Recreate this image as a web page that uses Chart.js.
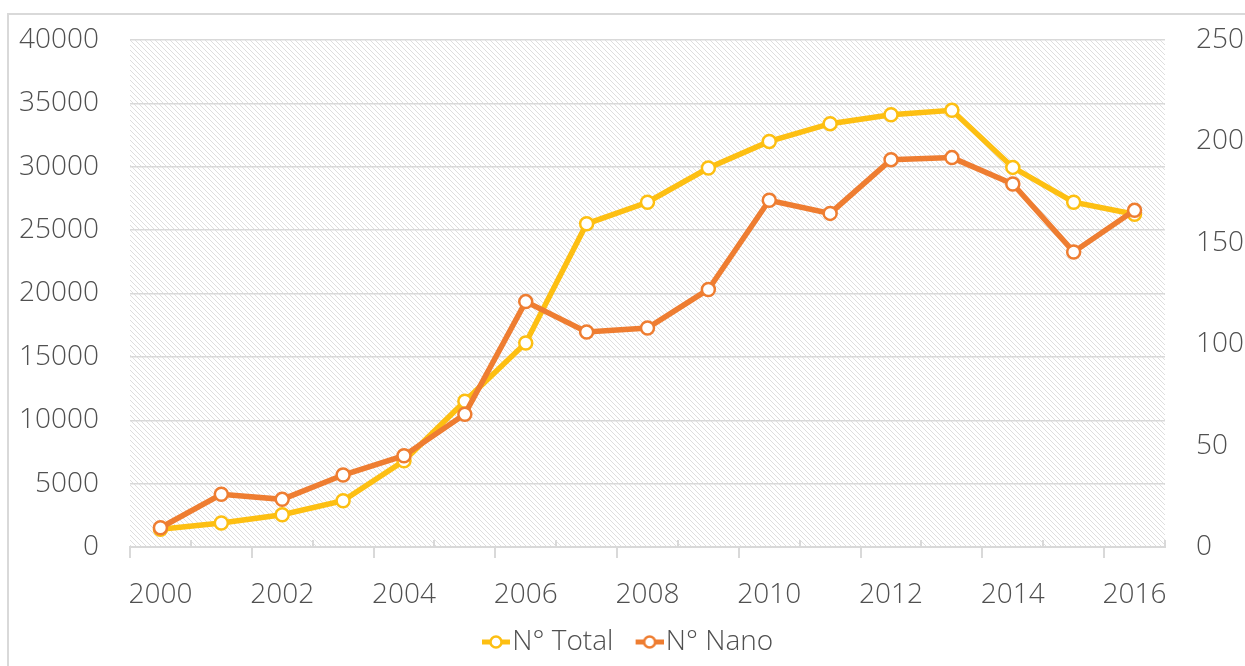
<!DOCTYPE html>
<html>
<head>
<meta charset="UTF-8">
<title>N° Total / N° Nano</title>
<script src="https://cdn.jsdelivr.net/npm/chart.js"></script>
<style>
  body { margin: 0; background: #fff; }
</style>
</head>
<body>
<canvas id="chart" width="1245" height="666"></canvas>
<script>
  // values
  const years = ['2000', '2001', '2002', '2003', '2004', '2005', '2006', '2007', '2008',
                 '2009', '2010', '2011', '2012', '2013', '2014', '2015', '2016'];
  const totalData = [1400, 1900, 2550, 3650, 6800, 11500, 16100, 25500, 27200,
                     29900, 32000, 33400, 34100, 34450, 29950, 27200, 26250];
  const nanoData = [9.5, 26, 23.5, 35.5, 45, 65.5, 121, 106, 108,
                    127, 171, 164.5, 191, 192, 179, 145.5, 166];

  const YELLOW = '#FDBF12';
  const ORANGE = '#EE7D31';
  const GRID = '#d9d9d9';
  const TEXT = '#505050';
  const FONT = { family: '"Open Sans", "DejaVu Sans", sans-serif', size: 28, weight: 300 };

  // diagonal hatch used behind the plot
  function hatchPattern(ctx) {
    const s = 5;
    const c = document.createElement('canvas');
    c.width = s; c.height = s;
    const g = c.getContext('2d');
    g.fillStyle = '#ffffff';
    g.fillRect(0, 0, s, s);
    g.strokeStyle = '#dedede';
    g.lineWidth = 1;
    g.beginPath();
    g.moveTo(-1, -1); g.lineTo(s + 1, s + 1);
    g.moveTo(-1, s - 1); g.lineTo(1, s + 1);
    g.moveTo(s - 1, -1); g.lineTo(s + 1, 1);
    g.stroke();
    return ctx.createPattern(c, 'repeat');
  }

  // line + hollow circle marker, drawn at the right of a wider transparent image
  function legendMarker(color) {
    const c = document.createElement('canvas');
    c.width = 50; c.height = 16;
    const g = c.getContext('2d');
    g.strokeStyle = color;
    g.lineWidth = 5;
    g.beginPath(); g.moveTo(22, 8); g.lineTo(50, 8); g.stroke();
    g.fillStyle = '#fff';
    g.lineWidth = 2.5;
    g.beginPath(); g.arc(36, 8, 5.5, 0, Math.PI * 2); g.fill(); g.stroke();
    return c;
  }

  const background = {
    id: 'background',
    beforeDraw(chart) {
      const { ctx, chartArea: a } = chart;
      ctx.save();
      ctx.strokeStyle = GRID;
      ctx.lineWidth = 2;
      ctx.strokeRect(8, 14, 1400, 1000);
      ctx.fillStyle = hatchPattern(ctx);
      ctx.fillRect(a.left, a.top, a.right - a.left, a.bottom - a.top);
      ctx.restore();
    }
  };

  // long ticks below the axis every 2 years, short ones inside the plot between them
  const axisTicks = {
    id: 'axisTicks',
    beforeDatasetsDraw(chart) {
      const x = chart.scales.x;
      const ctx = chart.ctx;
      const half = (x.getPixelForValue(1) - x.getPixelForValue(0)) / 2;
      ctx.save();
      ctx.strokeStyle = GRID;
      ctx.lineWidth = 2;
      for (let i = 0; i <= years.length; i++) {
        const px = Math.round(x.getPixelForValue(i) - half);
        ctx.beginPath();
        if (i % 2 === 0 && i < years.length) {
          ctx.moveTo(px, x.top); ctx.lineTo(px, x.top + 11);
        } else {
          ctx.moveTo(px, x.top); ctx.lineTo(px, x.top - 7);
        }
        ctx.stroke();
      }
      ctx.restore();
    }
  };

  // fixed axis widths; label padding should not push the plot down
  function fitY(width) {
    return s => {
      s.width = width;
      s.paddingTop = 0;
      s.paddingBottom = 0;
    };
  }

  window.onload = () => {
    const ctx = document.getElementById('chart').getContext('2d');
    new Chart(ctx, {
      type: 'line',
      data: {
        labels: years,
        datasets: [{
          label: 'N° Total',
          data: totalData,
          yAxisID: 'y',
          order: 2,
          borderColor: YELLOW,
          backgroundColor: YELLOW,
          borderWidth: 5.5,
          tension: 0,
          pointRadius: 6.5,
          pointBorderWidth: 2.5,
          pointBackgroundColor: '#fff',
          pointBorderColor: YELLOW
        }, {
          label: 'N° Nano',
          data: nanoData,
          yAxisID: 'y1',
          order: 1,
          borderColor: ORANGE,
          backgroundColor: ORANGE,
          borderWidth: 5.5,
          tension: 0,
          pointRadius: 6.5,
          pointBorderWidth: 2.5,
          pointBackgroundColor: '#fff',
          pointBorderColor: ORANGE
        }]
      },
      options: {
        responsive: false,
        animation: false,
        devicePixelRatio: 1,
        layout: { padding: { top: 40, left: 0, right: 0, bottom: 0 } },
        scales: {
          x: {
            offset: true,
            grid: { display: false, offset: true },
            border: { display: true, color: GRID, width: 2 },
            ticks: {
              autoSkip: false,
              maxRotation: 0,
              padding: 23,
              color: TEXT,
              font: FONT,
              callback: (v, i) => (i % 2 === 0 ? years[i] : '')
            },
            afterFit: s => { s.height = 69; }
          },
          y: {
            position: 'left',
            min: 0, max: 40000,
            grid: { color: GRID, lineWidth: 1.5, drawTicks: false },
            border: { display: false },
            ticks: { stepSize: 5000, padding: 31, color: TEXT, font: FONT, callback: v => String(v) },
            afterFit: fitY(130)
          },
          y1: {
            position: 'right',
            min: 0, max: 250,
            grid: { drawOnChartArea: false, drawTicks: false },
            border: { display: false },
            ticks: { stepSize: 50, padding: 31, color: TEXT, font: FONT, callback: v => String(v) },
            afterFit: fitY(80)
          }
        },
        plugins: {
          tooltip: { enabled: false },
          legend: {
            position: 'bottom',
            labels: {
              usePointStyle: true,
              pointStyleWidth: 26.5,
              boxHeight: 14,
              padding: 12,
              color: TEXT,
              font: FONT,
              generateLabels(chart) {
                const items = Chart.defaults.plugins.legend.labels.generateLabels(chart);
                items.forEach(it => {
                  it.pointStyle = legendMarker(chart.data.datasets[it.datasetIndex].borderColor);
                });
                return items.sort((a, b) => a.datasetIndex - b.datasetIndex);
              }
            }
          }
        }
      },
      plugins: [background, axisTicks]
    });
  };
</script>
</body>
</html>
